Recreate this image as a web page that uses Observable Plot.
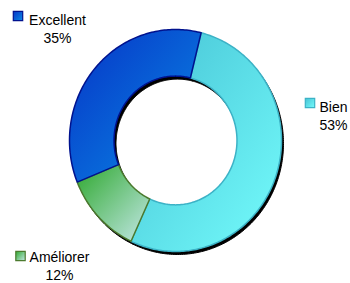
<!DOCTYPE html>
<html><head><meta charset="utf-8">
<script src="https://cdn.jsdelivr.net/npm/d3@7"></script>
<script src="https://cdn.jsdelivr.net/npm/@observablehq/plot@0.6"></script>
<style>body{margin:0;background:#fff} svg{display:block}</style>
</head><body><div id="chart"></div>
<script>
// Data
const categories = ["Bien", "Améliorer", "Excellent"];
const values = [53, 12, 35];
const percentLabels = ["53%", "12%", "35%"];

// Styles (kept apart from data)
const gradStops = [["#46c2d4", "#74fcfc"], ["#2ea82e", "#c4e8e8"], ["#0634c6", "#0a8ae6"]];
const borders = ["#3cb2c6", "#4b7a2e", "#00128e"];

// Layout
const W = 350, H = 283;
const cx = 175, cy = 140, rx = 106, ry = 111, inner = 0.58;
const start = 14 * Math.PI / 180;

const arcs = d3.pie().sort(null).startAngle(start).endAngle(start + 2 * Math.PI)(values);
const pts = [];
arcs.forEach((a, i) => {
  const n = Math.max(4, Math.ceil((a.endAngle - a.startAngle) / (Math.PI / 180)));
  for (let k = 0; k <= n; k++) {
    const t = a.startAngle + (a.endAngle - a.startAngle) * k / n;
    pts.push({key: categories[i], x: cx + rx * Math.sin(t), y: cy - ry * Math.cos(t)});
  }
  for (let k = n; k >= 0; k--) {
    const t = a.startAngle + (a.endAngle - a.startAngle) * k / n;
    pts.push({key: categories[i], x: cx + rx * inner * Math.sin(t), y: cy - ry * inner * Math.cos(t)});
  }
});

const labelPos = {
  "Excellent": {tx: 57, ty: 12, mx: 17.5, my: 15.5},
  "Bien": {tx: 333, ty: 99, mx: 309.5, my: 102.5},
  "Améliorer": {tx: 59, ty: 249, mx: 20, my: 255.5}
};

const marks = [
  Plot.line(pts, {x: "x", y: "y", z: "key", fill: "#000", stroke: "#000", strokeWidth: 1, curve: "linear-closed", dx: 2, dy: 3})
];
categories.forEach((c, i) => {
  marks.push(Plot.line(pts.filter(d => d.key === c), {x: "x", y: "y", fill: `url(#g${i})`, stroke: borders[i], strokeWidth: 1.5, curve: "linear-closed"}));
});
categories.forEach((c, i) => {
  const p = labelPos[c];
  marks.push(Plot.dot([0], {frameAnchor: "top-left", dx: p.mx, dy: p.my, symbol: "square", r: 5.3, fill: `url(#g${i})`, stroke: borders[i], strokeWidth: 1.2}));
  marks.push(Plot.text([0], {frameAnchor: "top-left", dx: p.tx, dy: p.ty, text: () => c + "\n" + percentLabels[i], textAnchor: "middle", lineAnchor: "top", lineHeight: 1.29, fontSize: 14, fill: "#000"}));
});

const svg = Plot.plot({
  width: W, height: H, margin: 0,
  x: {domain: [0, W], range: [0, W], axis: null},
  y: {domain: [0, H], range: [0, H], axis: null},
  style: {fontFamily: "'Liberation Sans', Arial, sans-serif", background: "#fff", overflow: "visible"},
  marks
});
const defs = gradStops.map((s, i) =>
  `<linearGradient id="g${i}" x1="0" y1="0" x2="1" y2="1"><stop offset="0" stop-color="${s[0]}"/><stop offset="1" stop-color="${s[1]}"/></linearGradient>`).join("");
svg.insertAdjacentHTML("afterbegin", `<defs>${defs}</defs>`);
document.getElementById("chart").appendChild(svg);
</script>
</body></html>
